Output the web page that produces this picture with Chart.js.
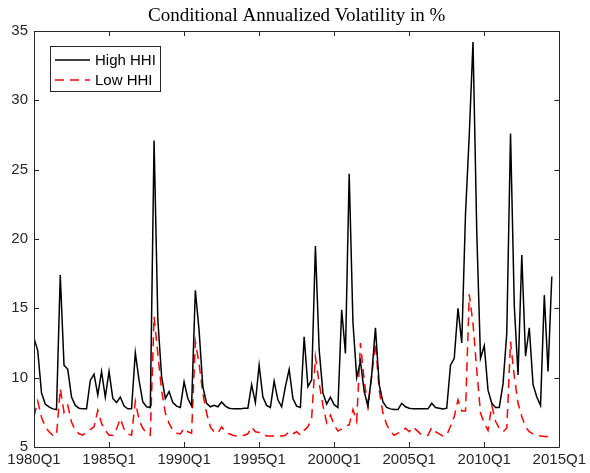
<!DOCTYPE html>
<html>
<head>
<meta charset="utf-8">
<script src="https://cdn.jsdelivr.net/npm/chart.js@4.4.1/dist/chart.umd.min.js"></script>
<style>
  html, body { margin: 0; padding: 0; background: #fff; }
  #wrap { width: 590px; height: 473px; }
</style>
</head>
<body>
<div id="wrap"><canvas id="c" width="590" height="473"></canvas></div>
<script>
// Quarterly data, 1980Q1 onwards (index 0 = 1980Q1)
const startYear = 1980;
const tickLabels = ["1980Q1","1985Q1","1990Q1","1995Q1","2000Q1","2005Q1","2010Q1","2015Q1"];
const yTicks = [5, 10, 15, 20, 25, 30, 35];

const highHHI = [
  12.85, 11.95, 8.9, 8.1, 7.9, 7.75, 7.7, 17.4, 10.9, 10.6,
  8.6, 8.0, 7.8, 7.75, 7.75, 9.8, 10.25, 8.75, 10.45, 8.6,
  10.45, 8.5, 8.2, 8.6, 7.95, 7.75, 7.75, 11.8, 9.8, 8.25,
  7.9, 7.85, 27.1, 14.2, 10.1, 8.5, 9.0, 8.2, 7.95, 7.85,
  9.7, 8.5, 7.95, 16.3, 13.4, 9.35, 8.15, 7.9, 8.0, 7.9,
  8.25, 7.95, 7.8, 7.75, 7.75, 7.75, 7.8, 7.8, 9.5, 8.2,
  10.9, 8.6, 8.0, 7.85, 9.75, 8.4, 7.9, 9.35, 10.6, 8.5,
  7.95, 7.85, 12.95, 9.35, 9.85, 19.5, 12.0, 8.9, 8.1, 8.6,
  8.05, 7.85, 14.9, 11.75, 24.7, 14.0, 10.0, 11.2, 9.0, 7.95,
  10.2, 13.6, 9.5, 8.25, 7.85, 7.75, 7.7, 7.7, 8.15, 7.9,
  7.8, 7.75, 7.75, 7.75, 7.75, 7.75, 8.15, 7.85, 7.8, 7.75,
  7.8, 10.9, 11.4, 15.0, 12.5, 21.8, 27.5, 34.2, 20.5, 11.4,
  12.3, 9.1, 8.15, 7.85, 7.85, 9.55, 13.2, 27.6, 15.2, 10.2,
  18.85, 11.55, 13.6, 9.5, 8.6, 8.0, 15.95, 10.45, 17.3
];

const lowHHI = [
  7.2, 8.3, 7.15, 6.45, 6.1, 5.85, 5.85, 9.2, 7.5, 8.0,
  6.8, 6.2, 5.95, 5.85, 6.1, 6.25, 6.45, 7.65, 6.7, 6.2,
  5.85, 5.85, 6.3, 7.05, 6.3, 5.95, 5.85, 8.3, 6.95, 6.35,
  6.0, 5.85, 14.4, 11.75, 9.1, 7.45, 6.7, 6.2, 6.0, 5.95,
  6.35, 6.1, 6.0, 12.6, 11.0, 8.85, 7.45, 6.45, 6.1, 6.0,
  6.45, 6.1, 5.95, 5.85, 5.8, 5.8, 5.85, 5.95, 6.45, 6.1,
  6.05, 5.95, 5.8, 5.8, 5.8, 5.8, 5.8, 5.85, 6.1, 5.95,
  6.1, 5.85, 6.2, 6.45, 7.1, 11.5, 9.6, 8.0, 6.75, 7.3,
  6.6, 6.15, 6.3, 6.5, 6.6, 7.7, 6.85, 12.5, 9.8, 7.9,
  10.1, 12.5, 9.1, 7.45, 6.6, 6.1, 5.85, 6.0, 6.1, 6.35,
  6.1, 6.45, 6.2, 5.95, 5.8, 5.85, 6.4, 6.1, 5.95, 5.8,
  5.85, 6.5, 7.2, 8.4, 7.6, 7.6, 16.0, 13.9, 10.55, 7.45,
  6.7, 6.2, 8.0, 6.85, 6.35, 6.1, 6.35, 12.6, 10.1, 8.15,
  7.2, 6.45, 6.1, 5.95, 5.85, 5.8, 5.75, 5.75, 5.8
];

const seriesNames = ["High HHI", "Low HHI"];
const titleText = "Conditional Annualized Volatility in %";

const toPoints = arr => arr.map((v, i) => ({ x: i, y: v }));

const AXIS_COLOR = '#262626';

const boxAndTicks = {
  id: 'boxAndTicks',
  afterDraw(chart) {
    const { ctx, chartArea: a, scales } = chart;
    ctx.save();
    ctx.strokeStyle = AXIS_COLOR;
    ctx.lineWidth = 1;
    ctx.beginPath();
    ctx.rect(Math.round(a.left) + 0.5, Math.round(a.top) + 0.5,
             Math.round(a.right - a.left), Math.round(a.bottom - a.top));
    ctx.stroke();
    const tl = 5;
    ctx.beginPath();
    scales.x.ticks.forEach(t => {
      const px = Math.round(scales.x.getPixelForValue(t.value)) + 0.5;
      ctx.moveTo(px, a.bottom); ctx.lineTo(px, a.bottom - tl);
      ctx.moveTo(px, a.top); ctx.lineTo(px, a.top + tl);
    });
    scales.y.ticks.forEach(t => {
      const py = Math.round(scales.y.getPixelForValue(t.value)) + 0.5;
      ctx.moveTo(a.left, py); ctx.lineTo(a.left + tl, py);
      ctx.moveTo(a.right, py); ctx.lineTo(a.right - tl, py);
    });
    ctx.stroke();

    // title
    ctx.fillStyle = '#000';
    ctx.font = '19px "Liberation Serif"';
    ctx.textAlign = 'center';
    ctx.textBaseline = 'alphabetic';
    ctx.fillText(titleText, (a.left + a.right) / 2, 21);

    // legend
    const lx = 50, ly = 46, lw = 110, lh = 45;
    ctx.fillStyle = '#fff';
    ctx.fillRect(lx, ly, lw, lh);
    ctx.strokeStyle = AXIS_COLOR;
    ctx.lineWidth = 1;
    ctx.strokeRect(lx + 0.5, ly + 0.5, lw, lh);
    chart.data.datasets.forEach((ds, k) => {
      const yy = ly + 14 + k * 20;
      ctx.save();
      ctx.strokeStyle = ds.borderColor;
      ctx.lineWidth = ds.borderWidth;
      ctx.setLineDash(ds.borderDash || []);
      ctx.beginPath();
      ctx.moveTo(lx + 5, yy); ctx.lineTo(lx + 40, yy);
      ctx.stroke();
      ctx.restore();
      ctx.fillStyle = '#000';
      ctx.font = '15px "Liberation Sans"';
      ctx.textAlign = 'left';
      ctx.textBaseline = 'middle';
      ctx.fillText(ds.label, lx + 45, yy + 1);
    });
    ctx.restore();
  }
};

new Chart(document.getElementById('c'), {
  type: 'line',
  data: {
    datasets: [
      { label: seriesNames[0], data: toPoints(highHHI), borderColor: '#000000', borderWidth: 1.5,
        pointRadius: 0, tension: 0, fill: false },
      { label: seriesNames[1], data: toPoints(lowHHI), borderColor: '#ff0000', borderWidth: 1.5,
        borderDash: [9, 6], pointRadius: 0, tension: 0, fill: false }
    ]
  },
  options: {
    responsive: false,
    animation: false,
    layout: { padding: { top: 31, right: 28, left: 0, bottom: 0 } },
    plugins: { legend: { display: false }, title: { display: false }, tooltip: { enabled: false } },
    scales: {
      x: {
        type: 'linear', min: 0, max: 140,
        grid: { display: false, drawTicks: false },
        border: { display: false },
        ticks: {
          stepSize: 20, autoSkip: false, maxRotation: 0, padding: 4, color: '#262626',
          font: { family: 'Liberation Sans', size: 15 },
          callback: v => tickLabels[Math.round(v / 20)]
        },
        afterFit: s => { s.height = 26; }
      },
      y: {
        min: 5, max: 35,
        grid: { display: false, drawTicks: false },
        border: { display: false },
        ticks: {
          stepSize: 5, autoSkip: false, padding: 6, color: '#262626',
          font: { family: 'Liberation Sans', size: 15 },
          callback: v => yTicks.includes(v) ? String(v) : ''
        },
        afterFit: s => { s.width = 34; }
      }
    }
  },
  plugins: [boxAndTicks]
});
</script>
</body>
</html>
